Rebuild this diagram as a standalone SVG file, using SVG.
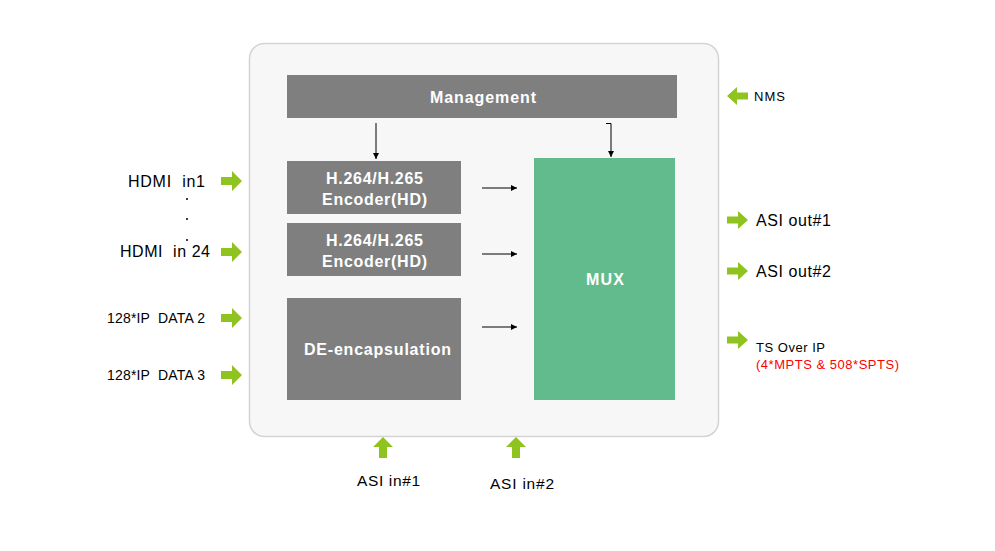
<svg xmlns="http://www.w3.org/2000/svg" width="995" height="551" viewBox="0 0 995 551">
<style>
.box{fill:#7f7f7f}
.bt{font-family:"Liberation Sans",Arial,sans-serif;font-weight:bold;fill:#fff;text-anchor:middle;font-size:16px}
.lt{font-family:"Liberation Sans",Arial,sans-serif;fill:#000}
.ga{fill:#8fc31f}
.ln{stroke:#000;stroke-width:1;fill:none}
</style>
<defs>
<marker id="ah" markerWidth="8" markerHeight="8" refX="6" refY="3" orient="auto" markerUnits="userSpaceOnUse"><path d="M0,0 L6,3 L0,6 Z" fill="#000"/></marker>
<path id="garr" d="M0,-4 H11 V-10 L21,0 L11,10 V4 H0 Z"/>
</defs>
<rect width="995" height="551" fill="#fff"/>
<g id="frame"><rect x="249.5" y="43.5" width="469" height="393" rx="15" fill="#f7f7f7" stroke="#d4d4d4" stroke-width="1.5"/></g>
<g id="management"><rect class="box" x="287" y="75" width="390" height="43"/><text class="bt" x="483" y="102.5" textLength="106" lengthAdjust="spacing">Management</text></g>
<g id="enc1"><rect class="box" x="287" y="161" width="174" height="53"/><text class="bt" x="374.5" y="184" textLength="97" lengthAdjust="spacing">H.264/H.265</text><text class="bt" x="374.5" y="204.5" textLength="105" lengthAdjust="spacing">Encoder(HD)</text></g>
<g id="enc2"><rect class="box" x="287" y="223" width="174" height="53"/><text class="bt" x="374.5" y="246" textLength="97" lengthAdjust="spacing">H.264/H.265</text><text class="bt" x="374.5" y="266.5" textLength="105" lengthAdjust="spacing">Encoder(HD)</text></g>
<g id="decap"><rect class="box" x="287" y="298" width="174" height="102"/><text class="bt" x="377.5" y="355" textLength="147" lengthAdjust="spacing">DE-encapsulation</text></g>
<g id="mux"><rect x="534" y="158" width="141" height="242" fill="#62bb8d"/><text class="bt" x="605" y="285" textLength="38" lengthAdjust="spacing">MUX</text></g>
<g id="connectors">
<path class="ln" d="M376,123 V159" marker-end="url(#ah)"/>
<path class="ln" d="M606,123.5 H611 V157" marker-end="url(#ah)"/>
<path class="ln" d="M482,188 H517" marker-end="url(#ah)"/>
<path class="ln" d="M482,254 H517" marker-end="url(#ah)"/>
<path class="ln" d="M482,327 H517" marker-end="url(#ah)"/>
</g>
<g id="inputs">
<use href="#garr" class="ga" x="221" y="181"/>
<use href="#garr" class="ga" x="221" y="252"/>
<use href="#garr" class="ga" x="221" y="318"/>
<use href="#garr" class="ga" x="221" y="375"/>
<text class="lt" x="128" y="187" font-size="16" xml:space="preserve" textLength="77" lengthAdjust="spacing">HDMI  in1</text>
<text class="lt" x="120" y="257" font-size="16" xml:space="preserve" textLength="90" lengthAdjust="spacing">HDMI  in 24</text>
<circle cx="187" cy="199" r="1" fill="#000"/>
<circle cx="187" cy="219" r="1" fill="#000"/>
<circle cx="187" cy="240" r="1" fill="#000"/>
<text class="lt" x="107" y="323" font-size="14" xml:space="preserve" textLength="98" lengthAdjust="spacing">128*IP  DATA 2</text>
<text class="lt" x="107" y="380" font-size="14" xml:space="preserve" textLength="98" lengthAdjust="spacing">128*IP  DATA 3</text>
</g>
<g id="nms">
<use href="#garr" class="ga" transform="translate(748,96) scale(-1,0.9)"/>
<text class="lt" x="754" y="101" font-size="13" textLength="31" lengthAdjust="spacing">NMS</text>
</g>
<g id="outputs">
<use href="#garr" class="ga" transform="translate(727,220) scale(1,0.9)"/>
<use href="#garr" class="ga" transform="translate(727,271) scale(1,0.9)"/>
<use href="#garr" class="ga" transform="translate(727,340) scale(1,0.9)"/>
<text class="lt" x="756" y="226" font-size="16" textLength="75" lengthAdjust="spacing">ASI out#1</text>
<text class="lt" x="756" y="277" font-size="16" textLength="75" lengthAdjust="spacing">ASI out#2</text>
<text class="lt" x="756" y="352" font-size="13" textLength="69" lengthAdjust="spacing">TS Over IP</text>
<text class="lt" x="756" y="369" font-size="13" textLength="143" lengthAdjust="spacing" style="fill:#ff0000">(4*MPTS &amp; 508*SPTS)</text>
</g>
<g id="asi-in">
<use href="#garr" class="ga" transform="translate(383,458) rotate(-90)"/>
<use href="#garr" class="ga" transform="translate(516,458) rotate(-90)"/>
<text class="lt" x="357" y="486" font-size="15.5" textLength="63" lengthAdjust="spacing">ASI in#1</text>
<text class="lt" x="490" y="489" font-size="15.5" textLength="64" lengthAdjust="spacing">ASI in#2</text>
</g>
</svg>
